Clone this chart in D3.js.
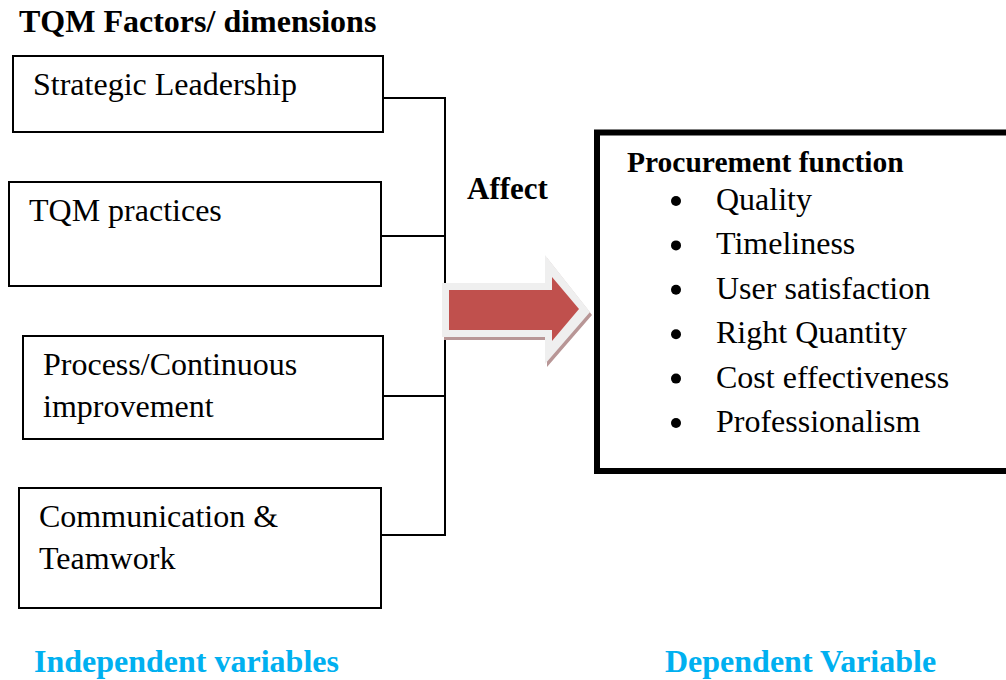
<!DOCTYPE html>
<html>
<head>
<meta charset="utf-8">
<script src="https://cdn.jsdelivr.net/npm/d3@7"></script>
<style>
  html, body { margin: 0; padding: 0; background: #fff; }
  svg { display: block; }
  text { font-family: "Liberation Serif", "Times New Roman", serif; }
</style>
</head>
<body>
<svg id="chart" width="1006" height="680"></svg>
<script>
// ---- content ----
const title = "TQM Factors/ dimensions";
const factors = [
  ["Strategic Leadership"],
  ["TQM practices"],
  ["Process/Continuous", "improvement"],
  ["Communication &", "Teamwork"]
];
const relation = "Affect";
const outcomeTitle = "Procurement function";
const outcomes = ["Quality", "Timeliness", "User satisfaction", "Right Quantity", "Cost effectiveness", "Professionalism"];
const footerLabels = ["Independent variables", "Dependent Variable"];

// ---- layout (geometry only) ----
const boxes = [
  {x: 13, y: 56, w: 370, h: 76, cy: 98},
  {x: 9,  y: 182, w: 372, h: 104, cy: 236},
  {x: 23, y: 336, w: 360, h: 103, cy: 396},
  {x: 19, y: 488, w: 362, h: 120, cy: 535}
];
const busX = 445;

const svg = d3.select("#chart");

// title
svg.append("text").attr("x", 19).attr("y", 32)
  .attr("font-size", 32).attr("font-weight", "bold").attr("fill", "#000")
  .text(title);

// factor boxes
const g = svg.append("g");
const bx = g.selectAll("g.factor").data(factors).join("g").attr("class", "factor");
bx.append("rect")
  .attr("x", (d, i) => boxes[i].x).attr("y", (d, i) => boxes[i].y)
  .attr("width", (d, i) => boxes[i].w).attr("height", (d, i) => boxes[i].h)
  .attr("fill", "#fff").attr("stroke", "#000").attr("stroke-width", 2);
bx.each(function(d, i) {
  const t = d3.select(this).append("text")
    .attr("font-size", 32).attr("fill", "#000");
  d.forEach((line, k) => {
    t.append("tspan").attr("x", boxes[i].x + 20).attr("y", boxes[i].y + 39 + k * 42).text(line);
  });
});

// connectors
const line = d3.line();
bx.append("path")
  .attr("d", (d, i) => line([[boxes[i].x + boxes[i].w, boxes[i].cy], [busX, boxes[i].cy]]))
  .attr("stroke", "#000").attr("stroke-width", 2).attr("fill", "none");
svg.append("path")
  .attr("d", line([[busX, boxes[0].cy - 1], [busX, boxes[boxes.length - 1].cy + 1]]))
  .attr("stroke", "#000").attr("stroke-width", 2).attr("fill", "none");

// relation label
svg.append("text").attr("x", 467).attr("y", 199)
  .attr("font-size", 31).attr("font-weight", "bold").attr("fill", "#000")
  .text(relation);

// arrow (shadow, light bevel, red body)
const outer = [[442,283],[545,283],[545,255],[590,312],[545,364],[545,337],[442,337]];
const inner = [[449,290],[552,290],[552,277],[579,309],[552,341],[552,330],[449,330]];
const closed = d3.line().curve(d3.curveLinearClosed);
svg.append("path").attr("d", closed(outer.map(p => [p[0] + 2, p[1] + 3])))
  .attr("fill", "#b89696");
svg.append("path").attr("d", closed(outer)).attr("fill", "#efefef");
svg.append("path").attr("d", closed(inner)).attr("fill", "#c0504d");

// dependent box
svg.append("rect").attr("x", 597).attr("y", 132.5).attr("width", 440).attr("height", 338.5)
  .attr("fill", "none").attr("stroke", "#000").attr("stroke-width", 6);
svg.append("text").attr("x", 627).attr("y", 172)
  .attr("font-size", 29.5).attr("font-weight", "bold").attr("fill", "#000")
  .text(outcomeTitle);
const items = svg.selectAll("g.item").data(outcomes).join("g").attr("class", "item");
items.append("circle").attr("cx", 676).attr("cy", (d, i) => 201 + i * 44.4).attr("r", 5).attr("fill", "#000");
items.append("text").attr("x", 716).attr("y", (d, i) => 210 + i * 44.4)
  .attr("font-size", 32).attr("fill", "#000").text(d => d);

// footers
svg.selectAll("text.footer").data(footerLabels).join("text").attr("class", "footer")
  .attr("x", (d, i) => i === 0 ? 34 : 665).attr("y", 672)
  .attr("font-size", 32).attr("font-weight", "bold").attr("fill", "#00b0f0")
  .text(d => d);
</script>
</body>
</html>
